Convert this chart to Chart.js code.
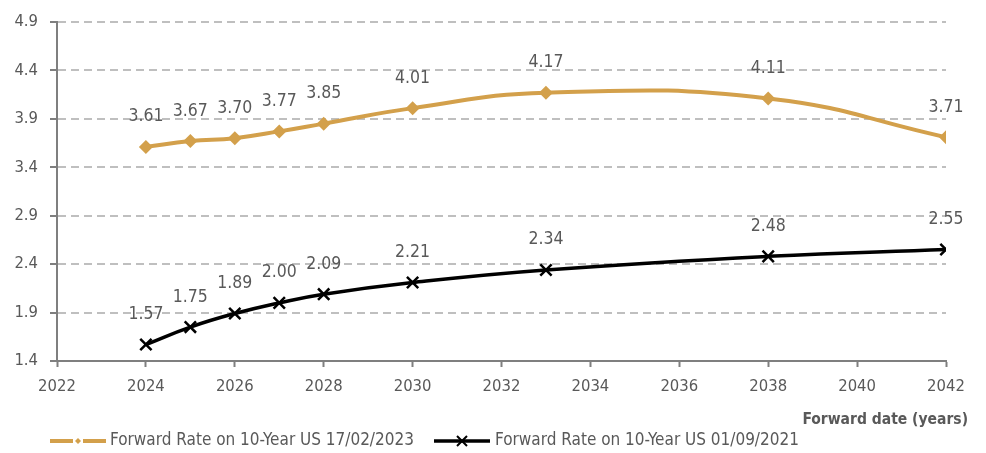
<!DOCTYPE html>
<html>
<head>
<meta charset="utf-8">
<script src="https://cdn.jsdelivr.net/npm/chart.js@4"></script>
<style>
html,body{margin:0;padding:0;background:#fff;}
#wrap{width:986px;height:453px;position:relative;}
</style>
</head>
<body>
<div id="wrap"><canvas id="c" width="986" height="453"></canvas></div>
<script>
const years = [2024, 2025, 2026, 2027, 2028, 2030, 2033, 2038, 2042];
const rates2023 = [3.61, 3.67, 3.70, 3.77, 3.85, 4.01, 4.17, 4.11, 3.71];
const rates2021 = [1.57, 1.75, 1.89, 2.00, 2.09, 2.21, 2.34, 2.48, 2.55];
const seriesNames = ['Forward Rate on 10-Year US 17/02/2023', 'Forward Rate on 10-Year US 01/09/2021'];
const xTitle = 'Forward date (years)';
const yTicks = [1.4, 1.9, 2.4, 2.9, 3.4, 3.9, 4.4, 4.9];

const FONT = "'Liberation Sans Narrow', 'DejaVu Sans Condensed', 'Roboto Condensed', sans-serif";
const GOLD = '#d3a04b';
const TEXT = '#595959';

const toXY = (xs, ys) => xs.map((x, i) => ({x: x, y: ys[i]}));

const labelPlugin = {
  id: 'labels',
  afterDatasetsDraw(chart) {
    const ctx = chart.ctx;
    ctx.save();
    ctx.font = '17.5px ' + FONT;
    ctx.fillStyle = TEXT;
    ctx.textAlign = 'center';
    ctx.textBaseline = 'middle';
    chart.data.datasets.forEach((ds, di) => {
      const meta = chart.getDatasetMeta(di);
      meta.data.forEach((pt, i) => {
        ctx.fillText(ds.data[i].y.toFixed(2), pt.x, pt.y - 30);
      });
    });
    ctx.restore();
  }
};

const legendPlugin = {
  id: 'customLegend',
  afterDraw(chart) {
    const ctx = chart.ctx;
    ctx.save();
    const y = 441;
    const items = [
      {x0: 50, x1: 106, tx: 110, ds: 0},
      {x0: 434, x1: 490, tx: 495, ds: 1}
    ];
    items.forEach(it => {
      const ds = chart.data.datasets[it.ds];
      ctx.strokeStyle = ds.borderColor;
      ctx.lineWidth = ds.borderWidth;
      ctx.beginPath();
      ctx.moveTo(it.x0, y);
      ctx.lineTo(it.x1, y);
      ctx.stroke();
      const cx = (it.x0 + it.x1) / 2;
      if (it.ds === 0) {
        ctx.fillStyle = '#fff';
        ctx.fillRect(cx - 5, y - 4, 10, 8);
        ctx.fillStyle = ds.borderColor;
        ctx.beginPath();
        ctx.moveTo(cx, y - 3); ctx.lineTo(cx + 3, y); ctx.lineTo(cx, y + 3); ctx.lineTo(cx - 3, y);
        ctx.closePath(); ctx.fill();
      } else {
        ctx.lineWidth = 2;
        ctx.beginPath();
        ctx.moveTo(cx - 5, y - 5); ctx.lineTo(cx + 5, y + 5);
        ctx.moveTo(cx + 5, y - 5); ctx.lineTo(cx - 5, y + 5);
        ctx.stroke();
      }
      ctx.font = '17px ' + FONT;
      ctx.fillStyle = TEXT;
      ctx.textAlign = 'left';
      ctx.textBaseline = 'middle';
      ctx.fillText(seriesNames[it.ds], it.tx, y);
    });
    ctx.font = 'bold 15.5px ' + FONT;
    ctx.fillStyle = TEXT;
    ctx.textAlign = 'right';
    ctx.textBaseline = 'middle';
    ctx.fillText(xTitle, 968, 420);
    ctx.restore();
  }
};

new Chart(document.getElementById('c'), {
  type: 'line',
  data: {
    datasets: [
      {
        label: seriesNames[0],
        data: toXY(years, rates2023),
        borderColor: GOLD,
        backgroundColor: GOLD,
        borderWidth: 4,
        pointStyle: 'rectRot',
        pointRadius: 7,
        pointBorderWidth: 0,
        tension: 0.45
      },
      {
        label: seriesNames[1],
        data: toXY(years, rates2021),
        borderColor: '#000000',
        backgroundColor: '#000000',
        borderWidth: 3.5,
        pointStyle: 'crossRot',
        pointRadius: 8,
        pointBorderWidth: 2.5,
        tension: 0.45
      }
    ]
  },
  options: {
    responsive: false,
    animation: false,
    events: [],
    layout: {padding: {left: 0, right: 40, top: 18, bottom: 0}},
    plugins: {legend: {display: false}, tooltip: {enabled: false}},
    scales: {
      x: {
        type: 'linear',
        min: 2022, max: 2042,
        afterFit: s => { s.height = 92; },
        ticks: {stepSize: 2, color: TEXT, font: {family: FONT, size: 16.5}, padding: 10, callback: v => String(v), maxRotation: 0},
        grid: {drawOnChartArea: false, drawTicks: true, tickLength: 6, tickColor: '#7f7f7f', tickWidth: 2},
        border: {display: true, color: '#7f7f7f', width: 2}
      },
      y: {
        min: 1.4, max: 4.9,
        afterFit: s => { s.width = 57; },
        afterBuildTicks: s => { s.ticks = yTicks.map(v => ({value: v})); },
        ticks: {color: TEXT, font: {family: FONT, size: 16.5}, padding: 12, callback: v => v.toFixed(1)},
        grid: {color: '#bfbfbf', lineWidth: 2, tickLength: 7, tickColor: '#7f7f7f', tickWidth: 2, tickBorderDash: []},
        border: {display: true, color: '#7f7f7f', width: 2, dash: [8, 5]}
      }
    }
  },
  plugins: [labelPlugin, legendPlugin]
});
</script>
</body>
</html>
